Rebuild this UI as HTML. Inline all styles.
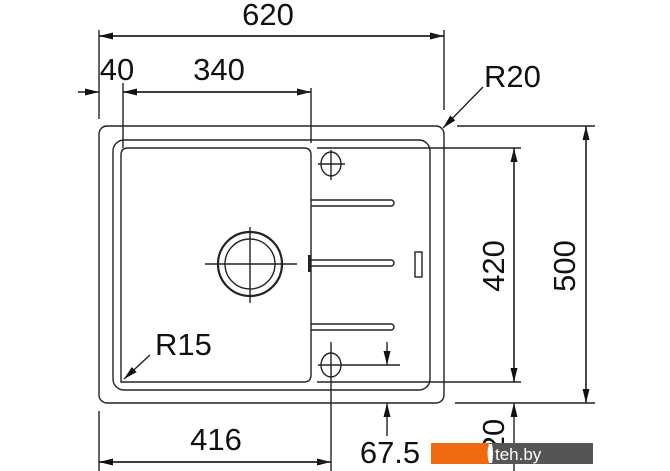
<!DOCTYPE html>
<html><head><meta charset="utf-8"><style>
html,body{margin:0;padding:0;background:#fff;}
svg{display:block;}
text{font-family:"Liberation Sans",Arial,sans-serif;fill:#111;}
</style></head><body>
<svg width="670" height="471" viewBox="0 0 670 471" xmlns="http://www.w3.org/2000/svg">
<defs>
<marker id="a" viewBox="0 0 14 7" refX="14" refY="3.5" markerWidth="14" markerHeight="7" orient="auto" markerUnits="userSpaceOnUse"><path d="M0,0 L14,3.5 L0,7 z" fill="#111"/></marker>
</defs>
<g stroke="#222" stroke-width="1.4" fill="none">
<rect x="99" y="126" width="345" height="277" rx="8"/>
<rect x="113" y="140" width="317" height="250" rx="11"/>
<path d="M121,382 V155 Q121,148 128,148 H304 Q311,148 311,155 V375 Q311,382 304,382 Z"/>
<line x1="99" y1="30" x2="99" y2="119"/>
<line x1="444" y1="30" x2="444" y2="110"/>
<line x1="123" y1="83" x2="123" y2="148"/>
<line x1="311" y1="88" x2="311" y2="143"/>
<line x1="317" y1="148" x2="521" y2="148"/>
<line x1="457" y1="126" x2="595" y2="126"/>
<line x1="317" y1="382" x2="521" y2="382"/>
<line x1="455" y1="403" x2="595" y2="403"/>
<line x1="99" y1="411" x2="99" y2="471"/>
<line x1="99" y1="36" x2="444" y2="36" marker-end="url(#a)"/>
<line x1="444" y1="36" x2="99" y2="36" marker-end="url(#a)"/>
<line x1="78" y1="92" x2="99" y2="92" marker-end="url(#a)"/>
<line x1="123" y1="92" x2="311" y2="92" marker-end="url(#a)"/>
<line x1="311" y1="92" x2="123" y2="92" marker-end="url(#a)"/>
<line x1="586" y1="403" x2="586" y2="126" marker-end="url(#a)"/>
<line x1="586" y1="126" x2="586" y2="403" marker-end="url(#a)"/>
<line x1="514" y1="382" x2="514" y2="148" marker-end="url(#a)"/>
<line x1="514" y1="148" x2="514" y2="382" marker-end="url(#a)"/>
<line x1="514" y1="471" x2="514" y2="403" marker-end="url(#a)"/>
<line x1="387" y1="342" x2="387" y2="365" marker-end="url(#a)"/>
<line x1="387" y1="436" x2="387" y2="403" marker-end="url(#a)"/>
<line x1="99" y1="462" x2="331" y2="462" marker-end="url(#a)"/>
<line x1="331" y1="462" x2="99" y2="462" marker-end="url(#a)"/>
<line x1="483" y1="87" x2="443" y2="128" marker-end="url(#a)"/>
<line x1="150" y1="355" x2="124" y2="379" marker-end="url(#a)"/>
<ellipse cx="331" cy="164" rx="10" ry="12"/>
<line x1="331" y1="150" x2="331" y2="180"/>
<line x1="318" y1="164" x2="345" y2="164"/>
<ellipse cx="331" cy="365" rx="10" ry="12"/>
<line x1="331" y1="342" x2="331" y2="471"/>
<line x1="318" y1="365" x2="400" y2="365"/>
<ellipse cx="250" cy="264" rx="32" ry="32" stroke-width="2.2"/>
<ellipse cx="250" cy="264" rx="25" ry="25"/>
<line x1="205" y1="264" x2="297" y2="264"/>
<line x1="250" y1="227" x2="250" y2="303"/>
<path d="M311,200 H391 A3,3 0 0 1 391,206 H311"/>
<path d="M311,260 H391 A3,3 0 0 1 391,266 H311"/>
<path d="M311,324 H391 A3,3 0 0 1 391,330 H311"/>
<rect x="415" y="252" width="7" height="25"/>
</g>
<rect x="308" y="255" width="3" height="17" fill="#222"/>
<g font-size="31">
<text x="268" y="25" text-anchor="middle">620</text>
<text x="117" y="80" text-anchor="middle">40</text>
<text x="219" y="80" text-anchor="middle">340</text>
<text x="484" y="87">R20</text>
<text x="155" y="355">R15</text>
<text x="216" y="450" text-anchor="middle">416</text>
<text x="390" y="463" text-anchor="middle">67.5</text>
<text transform="translate(504,266) rotate(-90)" text-anchor="middle">420</text>
<text transform="translate(575,266) rotate(-90)" text-anchor="middle">500</text>
<text transform="translate(504,436) rotate(-90)" text-anchor="middle">20</text>
</g>
<rect x="431" y="443" width="58" height="21" fill="#f26a10"/>
<rect x="489" y="443" width="104" height="21" fill="#555"/>
<path d="M489,444 q-3,9 0,19 l3,0 q2,-10 0,-19 z" fill="#fff"/>
<text x="495" y="460" font-size="17" style="fill:#fff">teh.by</text>
</svg>
</body></html>
